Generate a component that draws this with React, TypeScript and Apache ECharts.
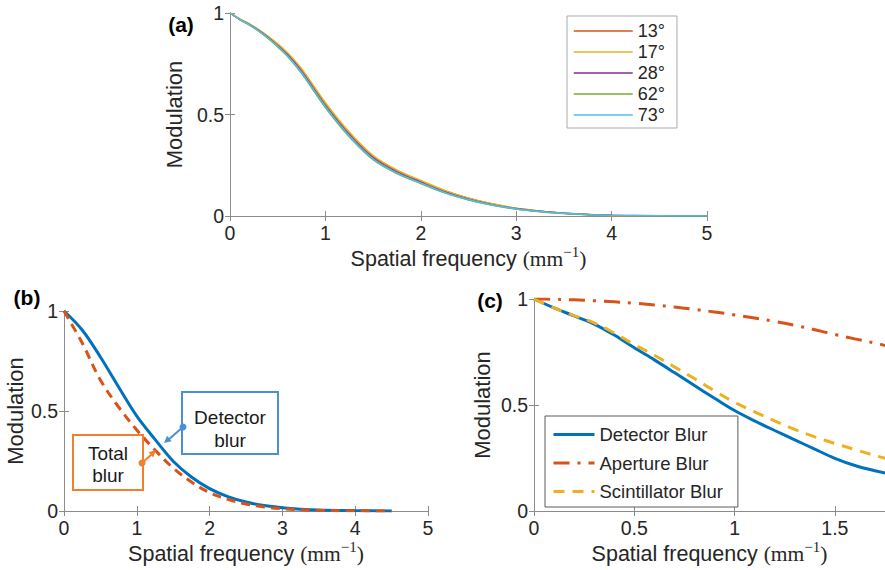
import React, { useEffect, useRef } from 'react';
import * as echarts from 'echarts';

// ---------- Panel (a) ----------
const freqA = [0, 0.1, 0.2, 0.3, 0.4, 0.5, 0.6, 0.75, 1, 1.25, 1.5, 1.75, 2, 2.25, 2.5, 2.75, 3, 3.25, 3.5, 3.75, 4, 4.5, 5];
const mod13 = [1, 0.97, 0.945, 0.916, 0.883, 0.845, 0.803, 0.722, 0.555, 0.41, 0.295, 0.224, 0.173, 0.124, 0.087, 0.059, 0.038, 0.024, 0.014, 0.008, 0.003, 0.001, 0];
const mod17 = [1, 0.972, 0.948, 0.918, 0.885, 0.848, 0.805, 0.725, 0.558, 0.414, 0.298, 0.226, 0.175, 0.126, 0.088, 0.06, 0.038, 0.024, 0.014, 0.008, 0.003, 0.001, 0];
const mod28 = [1, 0.969, 0.944, 0.914, 0.879, 0.838, 0.795, 0.712, 0.545, 0.4, 0.286, 0.216, 0.166, 0.119, 0.083, 0.056, 0.036, 0.023, 0.014, 0.008, 0.004, 0.001, 0];
const mod62 = [1, 0.968, 0.942, 0.911, 0.875, 0.833, 0.788, 0.703, 0.534, 0.39, 0.277, 0.209, 0.16, 0.114, 0.079, 0.053, 0.034, 0.021, 0.012, 0.006, 0.003, 0.001, 0];
const mod73 = [1, 0.969, 0.943, 0.912, 0.877, 0.836, 0.791, 0.707, 0.54, 0.395, 0.281, 0.212, 0.163, 0.116, 0.081, 0.054, 0.035, 0.022, 0.013, 0.007, 0.003, 0.001, 0];
const anglesA = ['13°', '17°', '28°', '62°', '73°'];
const colorsA = ['#D95319', '#EDB120', '#7E2F8E', '#77AC30', '#4DBEEE'];

// ---------- Panel (b) ----------
const freqB = [0, 0.25, 0.5, 0.75, 1, 1.25, 1.5, 1.75, 2, 2.25, 2.5, 2.75, 3, 3.25, 3.5, 4, 4.5];
const detectorB = [1, 0.905, 0.77, 0.62, 0.474, 0.358, 0.249, 0.17, 0.112, 0.072, 0.045, 0.027, 0.016, 0.009, 0.005, 0.002, 0];
const totalB = [1, 0.84, 0.655, 0.52, 0.405, 0.305, 0.215, 0.145, 0.092, 0.058, 0.035, 0.02, 0.011, 0.006, 0.003, 0.001, 0];

// ---------- Panel (c) ----------
const freqC = [0, 0.1, 0.2, 0.3, 0.4, 0.5, 0.6, 0.7, 0.8, 0.9, 1.0, 1.1, 1.2, 1.3, 1.4, 1.5, 1.6, 1.7, 1.8];
const detectorC = [1, 0.958, 0.92, 0.882, 0.83, 0.77, 0.713, 0.653, 0.592, 0.532, 0.474, 0.425, 0.38, 0.336, 0.292, 0.249, 0.215, 0.19, 0.17];
const apertureC = [1, 0.999, 0.996, 0.992, 0.987, 0.98, 0.972, 0.962, 0.951, 0.939, 0.925, 0.91, 0.894, 0.876, 0.855, 0.833, 0.812, 0.792, 0.77];
const scintC = [1, 0.958, 0.922, 0.888, 0.84, 0.785, 0.735, 0.68, 0.625, 0.567, 0.513, 0.468, 0.425, 0.385, 0.35, 0.319, 0.29, 0.262, 0.238];
const legendC = ['Detector Blur', 'Aperture Blur', 'Scintillator Blur'];

const SANS = '"Liberation Sans", Arial, Helvetica, sans-serif';
const SERIF = '"Liberation Serif", "Times New Roman", serif';
const AX = '#8c8c8c';
const TXT = '#262626';
const SMOOTH = 0.35;

const zip = (xs: number[], ys: number[]) => xs.map((x, i) => [x, ys[i]]);

const xTitle = '{s|Spatial frequency }{m|(mm}{p|−1}{m|)}';
const xTitleStyle = {
  color: TXT,
  rich: {
    s: { fontSize: 21.5, fontFamily: SANS, color: TXT, lineHeight: 26 },
    m: { fontSize: 21.5, fontFamily: SERIF, color: TXT, lineHeight: 26 },
    p: { fontSize: 15, fontFamily: SERIF, color: TXT, lineHeight: 15, padding: [0, 0, 15, 0] },
  },
};

function bottomX(grid: number, max: number, interval: number, gap: number) {
  return {
    type: 'value', gridIndex: grid, min: 0, max, interval, position: 'bottom',
    axisLine: { show: true, lineStyle: { color: AX, width: 1 } },
    axisTick: { show: true, inside: true, length: 5, lineStyle: { color: AX } },
    axisLabel: { color: TXT, fontSize: 19.5, fontFamily: SANS, margin: 7, showMaxLabel: max % interval === 0 },
    splitLine: { show: false },
    name: xTitle, nameLocation: 'middle', nameGap: gap, nameTextStyle: xTitleStyle,
  };
}
function topX(grid: number, max: number, interval: number) {
  return {
    type: 'value', gridIndex: grid, min: 0, max, interval, position: 'top',
    axisLine: { show: true, lineStyle: { color: AX, width: 1 } },
    axisTick: { show: true, inside: true, length: 5, lineStyle: { color: AX } },
    axisLabel: { show: false }, splitLine: { show: false },
  };
}
function leftY(grid: number, gap: number) {
  return {
    type: 'value', gridIndex: grid, min: 0, max: 1, interval: 0.5, position: 'left',
    axisLine: { show: true, lineStyle: { color: AX, width: 1 } },
    axisTick: { show: true, inside: true, length: 5, lineStyle: { color: AX } },
    axisLabel: { color: TXT, fontSize: 19.5, fontFamily: SANS, margin: 6 },
    splitLine: { show: false },
    name: 'Modulation', nameLocation: 'middle', nameGap: gap,
    nameTextStyle: { color: TXT, fontSize: 22, fontFamily: SANS },
  };
}
function rightY(grid: number) {
  return {
    type: 'value', gridIndex: grid, min: 0, max: 1, interval: 0.5, position: 'right',
    axisLine: { show: true, lineStyle: { color: AX, width: 1 } },
    axisTick: { show: true, inside: true, length: 5, lineStyle: { color: AX } },
    axisLabel: { show: false }, splitLine: { show: false },
  };
}

export default function App() {
  const ref = useRef<HTMLDivElement>(null);
  useEffect(() => {
    const chart = echarts.init(ref.current!, null, { renderer: 'svg' });
    const seriesA = [mod13, mod17, mod28, mod62, mod73].map((ys, i) => ({
      type: 'line', name: anglesA[i], xAxisIndex: 0, yAxisIndex: 0,
      data: zip(freqA, ys), symbol: 'none', smooth: SMOOTH,
      lineStyle: { color: colorsA[i], width: 1.5 }, itemStyle: { color: colorsA[i] },
    }));
    const option: any = {
      animation: false,
      backgroundColor: '#ffffff',
      textStyle: { fontFamily: SANS },
      grid: [
        { left: 230, top: 13, width: 477, height: 203 },
        { left: 64, top: 311, width: 364, height: 200 },
        { left: 534, top: 299, width: 352, height: 213 },
      ],
      xAxis: [
        bottomX(0, 5, 1, 30), topX(0, 5, 1),
        bottomX(1, 5, 1, 30), topX(1, 5, 1),
        bottomX(2, 1.75, 0.5, 29), topX(2, 1.75, 0.5),
      ],
      yAxis: [
        leftY(0, 43), rightY(0),
        leftY(1, 33), rightY(1),
        leftY(2, 41), rightY(2),
      ],
      legend: [
        {
          data: anglesA, orient: 'vertical', left: 567, top: 16,
          itemWidth: 59, itemHeight: 14, itemGap: 3, padding: [6, 12, 4, 6],
          borderColor: '#aaaaaa', borderWidth: 1, backgroundColor: '#ffffff',
          textStyle: { fontSize: 18, color: TXT, fontFamily: SANS },
          itemStyle: { opacity: 0 },
          lineStyle: { width: 1.5 },
          selectedMode: false,
        },
        {
          data: legendC, orient: 'vertical', left: 545, top: 416,
          itemWidth: 41, itemHeight: 18, itemGap: 9.5, padding: [9, 15, 6, 7],
          borderColor: '#5a5a5a', borderWidth: 1, backgroundColor: '#ffffff',
          textStyle: { fontSize: 18.5, color: TXT, fontFamily: SANS },
          itemStyle: { opacity: 0 },
          lineStyle: { width: 3 },
          selectedMode: false,
        },
      ],
      series: [
        ...seriesA,
        {
          type: 'line', name: 'Detector blur', xAxisIndex: 2, yAxisIndex: 2,
          data: zip(freqB, detectorB), symbol: 'none', smooth: SMOOTH,
          lineStyle: { color: '#0072BD', width: 3 }, itemStyle: { color: '#0072BD' },
        },
        {
          type: 'line', name: 'Total blur', xAxisIndex: 2, yAxisIndex: 2,
          data: zip(freqB, totalB), symbol: 'none', smooth: SMOOTH,
          lineStyle: { color: '#D95319', width: 3, type: [9, 6] }, itemStyle: { color: '#D95319' },
        },
        {
          type: 'line', name: 'Detector Blur', xAxisIndex: 4, yAxisIndex: 4,
          data: zip(freqC, detectorC), symbol: 'none', smooth: SMOOTH,
          lineStyle: { color: '#0072BD', width: 3 }, itemStyle: { color: '#0072BD' },
        },
        {
          type: 'line', name: 'Aperture Blur', xAxisIndex: 4, yAxisIndex: 4,
          data: zip(freqC, apertureC), symbol: 'none', smooth: SMOOTH,
          lineStyle: { color: '#D95319', width: 3, type: [16, 8, 3, 8] }, itemStyle: { color: '#D95319' },
        },
        {
          type: 'line', name: 'Scintillator Blur', xAxisIndex: 4, yAxisIndex: 4,
          data: zip(freqC, scintC), symbol: 'none', smooth: SMOOTH,
          lineStyle: { color: '#EDB120', width: 3, type: [11, 8] }, itemStyle: { color: '#EDB120' },
        },
      ],
      graphic: [
        { type: 'text', x: 181, y: 24, style: { text: '(a)', font: `bold 21px ${SANS}`, fill: '#000', align: 'center', verticalAlign: 'middle' } },
        { type: 'text', x: 27, y: 297, style: { text: '(b)', font: `bold 21px ${SANS}`, fill: '#000', align: 'center', verticalAlign: 'middle' } },
        { type: 'text', x: 490, y: 300, style: { text: '(c)', font: `bold 21px ${SANS}`, fill: '#000', align: 'center', verticalAlign: 'middle' } },
        // Detector blur annotation
        { type: 'rect', shape: { x: 182, y: 392, width: 96, height: 62 }, style: { fill: 'none', stroke: '#4A90D9', lineWidth: 2 }, z: 10 },
        { type: 'text', x: 230, y: 417, style: { text: 'Detector', font: `19px ${SANS}`, fill: '#1a1a1a', align: 'center', verticalAlign: 'middle' }, z: 10 },
        { type: 'text', x: 230, y: 440, style: { text: 'blur', font: `19px ${SANS}`, fill: '#1a1a1a', align: 'center', verticalAlign: 'middle' }, z: 10 },
        { type: 'line', shape: { x1: 183, y1: 427, x2: 168, y2: 440 }, style: { stroke: '#4A90D9', lineWidth: 2 }, z: 10 },
        { type: 'circle', shape: { cx: 183, cy: 427, r: 3.5 }, style: { fill: '#4A90D9' }, z: 10 },
        { type: 'polygon', shape: { points: [[164, 443], [171.6, 441.2], [167.1, 435.8]] }, style: { fill: '#4A90D9' }, z: 10 },
        // Total blur annotation
        { type: 'rect', shape: { x: 73, y: 435, width: 70, height: 55 }, style: { fill: 'none', stroke: '#F0802F', lineWidth: 2 }, z: 10 },
        { type: 'text', x: 108, y: 453, style: { text: 'Total', font: `19px ${SANS}`, fill: '#1a1a1a', align: 'center', verticalAlign: 'middle' }, z: 10 },
        { type: 'text', x: 108, y: 475, style: { text: 'blur', font: `19px ${SANS}`, fill: '#1a1a1a', align: 'center', verticalAlign: 'middle' }, z: 10 },
        { type: 'line', shape: { x1: 142, y1: 463, x2: 152, y2: 454 }, style: { stroke: '#F0802F', lineWidth: 2 }, z: 10 },
        { type: 'circle', shape: { cx: 142, cy: 463, r: 3.5 }, style: { fill: '#F0802F' }, z: 10 },
        { type: 'polygon', shape: { points: [[156, 450], [153.3, 457.4], [148.5, 452.2]] }, style: { fill: '#F0802F' }, z: 10 },
      ],
    };
    chart.setOption(option);
    return () => chart.dispose();
  }, []);
  return (
    <div
      ref={ref}
      style={{ position: 'absolute', left: 0, top: 0, width: 885, height: 570, background: '#fff' }}
    />
  );
}
